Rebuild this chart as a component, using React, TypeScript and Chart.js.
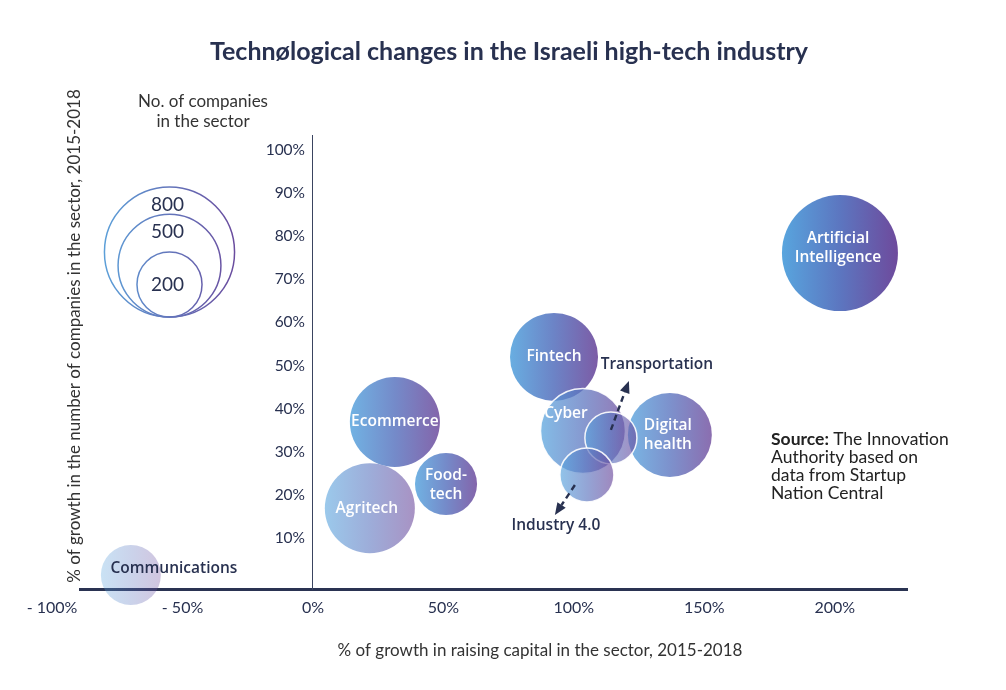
import { useEffect, useRef } from "react";
import { Chart, registerables } from "chart.js";

Chart.register(...registerables);

// ---- data ----
const sectors = [
  "Artificial Intelligence",
  "Fintech",
  "Ecommerce",
  "Agritech",
  "Food-tech",
  "Communications",
  "Cyber",
  "Digital health",
  "Transportation",
  "Industry 4.0",
];
// % growth in raising capital, 2015-2018 (x)
const capitalGrowth = [202, 92.4, 31.4, 21.8, 51, -69.8, 103.5, 136.8, 114.2, 105];
// % growth in number of companies, 2015-2018 (y)
const companyGrowth = [76.1, 52, 36.9, 16.9, 22.5, 1.4, 34.8, 33.9, 33.2, 24.6];
// number of companies in the sector (bubble size)
const companies = [636, 366, 383, 383, 182, 170, 341, 333, 128, 138];
const legendCompanies = [800, 500, 200];
const xTickValues = [-100, -50, 0, 50, 100, 150, 200];
const yTickValues = [10, 20, 30, 40, 50, 60, 70, 80, 90, 100];

// ---- styles ----
const NAVY = "#283150";
const bubbleAlpha = [1, 0.9, 0.85, 0.6, 0.85, 0.32, 0.74, 0.8, 0.64, 0.66];
const whiteBorder = [false, false, false, false, false, false, true, false, true, true];
const labelLines = [
  ["Artificial", "Intelligence"],
  ["Fintech"],
  ["Ecommerce"],
  ["Agritech"],
  ["Food-", "tech"],
  ["Communications"],
  ["Cyber"],
  ["Digital", "health"],
  ["Transportation"],
  ["Industry 4.0"],
];
const labelOffset = [
  [-2, -5],
  [0, 0],
  [0, 0],
  [-3, 0],
  [0, 1],
  [43, -6],
  [-17, -17],
  [-2, 0],
  [46, -73],
  [-31, 51],
];
const labelDark = [false, false, false, false, false, true, false, false, true, true];

const K = 2.3;
const rOf = (n: number) => K * Math.sqrt(n);

function drawArrow(ctx: CanvasRenderingContext2D, x1: number, y1: number, x2: number, y2: number) {
  const ang = Math.atan2(y2 - y1, x2 - x1);
  const head = 12;
  const bx = x2 - Math.cos(ang) * head;
  const by = y2 - Math.sin(ang) * head;
  ctx.save();
  ctx.strokeStyle = NAVY;
  ctx.fillStyle = NAVY;
  ctx.lineWidth = 2.4;
  ctx.setLineDash([6, 4]);
  ctx.beginPath();
  ctx.moveTo(x1, y1);
  ctx.lineTo(bx, by);
  ctx.stroke();
  ctx.setLineDash([]);
  ctx.beginPath();
  ctx.moveTo(x2, y2);
  ctx.lineTo(bx + Math.cos(ang + Math.PI / 2) * 5, by + Math.sin(ang + Math.PI / 2) * 5);
  ctx.lineTo(bx + Math.cos(ang - Math.PI / 2) * 5, by + Math.sin(ang - Math.PI / 2) * 5);
  ctx.closePath();
  ctx.fill();
  ctx.restore();
}

const decorPlugin = {
  id: "decor",
  afterDatasetsDraw(chart: any) {
    const ctx: CanvasRenderingContext2D = chart.ctx;
    const meta = chart.getDatasetMeta(0);
    // arrows
    const tr = meta.data[8];
    const ind = meta.data[9];
    drawArrow(ctx, tr.x, tr.y - 8, tr.x + 18, tr.y - 57);
    drawArrow(ctx, ind.x - 12, ind.y + 10, ind.x - 32, ind.y + 40);
    // bubble labels
    ctx.save();
    ctx.textAlign = "center";
    ctx.textBaseline = "middle";
    ctx.font = "600 15.5px 'Open Sans'";
    meta.data.forEach((el: any, i: number) => {
      const lines = labelLines[i];
      const lh = 19;
      const cx = el.x + labelOffset[i][0];
      const cy = el.y + labelOffset[i][1] - ((lines.length - 1) * lh) / 2;
      ctx.fillStyle = labelDark[i] ? NAVY : "#ffffff";
      lines.forEach((t, j) => ctx.fillText(t, cx, cy + j * lh));
    });
    ctx.restore();
  },
  afterDraw(chart: any) {
    const ctx: CanvasRenderingContext2D = chart.ctx;
    ctx.save();
    // main title
    ctx.textAlign = "center";
    ctx.textBaseline = "middle";
    ctx.fillStyle = NAVY;
    ctx.font = "bold 25px Lato";
    ctx.fillText("Technølogical changes in the Israeli high-tech industry", 509, 52);
    // y-axis title
    ctx.save();
    ctx.translate(75, 336);
    ctx.rotate(-Math.PI / 2);
    ctx.fillStyle = "#333333";
    ctx.font = "17px Lato";
    ctx.fillText("% of growth in the number of companies in the sector, 2015-2018", 0, 0);
    ctx.restore();
    // x-axis title
    ctx.fillStyle = "#333333";
    ctx.font = "17px Lato";
    ctx.fillText("% of growth in raising capital in the sector, 2015-2018", 540, 651);
    // size legend
    ctx.font = "17px Lato";
    ctx.fillText("No. of companies", 203, 102);
    ctx.fillText("in the sector", 203, 122);
    const cx = 169.5;
    const bottom = 317;
    const rMax = rOf(legendCompanies[0]);
    const g = ctx.createLinearGradient(cx - rMax, 0, cx + rMax, 0);
    g.addColorStop(0, "#5c9fd8");
    g.addColorStop(1, "#6a4c9e");
    ctx.strokeStyle = g;
    ctx.lineWidth = 1.5;
    legendCompanies.forEach((v, i) => {
      const r = rOf(v);
      ctx.beginPath();
      ctx.arc(cx, bottom - r, r, 0, Math.PI * 2);
      ctx.stroke();
      ctx.fillStyle = NAVY;
      ctx.font = "19px Lato";
      const ty = i === legendCompanies.length - 1 ? bottom - r : bottom - 2 * r + 18;
      ctx.fillText(String(v), cx - 2, ty);
    });
    // source note
    ctx.textAlign = "left";
    ctx.fillStyle = "#222222";
    ctx.font = "bold 17.5px Lato";
    ctx.fillText("Source:", 771, 439);
    const w = ctx.measureText("Source: ").width;
    ctx.font = "17.5px Lato";
    ctx.fillText("The Innovation", 771 + w, 439);
    ctx.fillText("Authority based on", 771, 457);
    ctx.fillText("data from Startup", 771, 475);
    ctx.fillText("Nation Central", 771, 493);
    ctx.restore();
  },
};

export default function App() {
  const ref = useRef<HTMLCanvasElement>(null);
  useEffect(() => {
    const canvas = ref.current!;
    const points = sectors.map((s, i) => ({
      x: capitalGrowth[i],
      y: companyGrowth[i],
      r: rOf(companies[i]),
    }));
    const fill = (c: any) => {
      const i = c.dataIndex;
      const chart = c.chart;
      if (i === undefined || !chart.scales || !chart.scales.x) return "rgba(120,120,200,0.5)";
      const px = chart.scales.x.getPixelForValue(capitalGrowth[i]);
      const r = rOf(companies[i]);
      const a = bubbleAlpha[i];
      if (!Number.isFinite(px) || !Number.isFinite(r)) return `rgba(92,118,192,${a})`;
      const grad = chart.ctx.createLinearGradient(px - r, 0, px + r, 0);
      grad.addColorStop(0, `rgba(88,165,222,${a})`);
      grad.addColorStop(0.5, `rgba(92,118,192,${a})`);
      grad.addColorStop(1, `rgba(110,74,156,${a})`);
      return grad;
    };
    const chart = new Chart(canvas, {
      type: "bubble",
      data: {
        datasets: [
          {
            label: "Sectors",
            data: points,
            backgroundColor: fill,
            borderColor: (c: any) =>
              whiteBorder[c.dataIndex] ? "rgba(255,255,255,0.9)" : "rgba(255,255,255,0)",
            borderWidth: (c: any) => (whiteBorder[c.dataIndex] ? 1.5 : 0),
            clip: false as any,
          },
        ],
      },
      options: {
        animation: false,
        responsive: true,
        maintainAspectRatio: false,
        events: [],
        layout: { padding: { left: 80, right: 99, top: 135, bottom: 0 } },
        plugins: {
          legend: { display: false },
          tooltip: { enabled: false },
          title: { display: false },
        },
        scales: {
          x: {
            type: "linear",
            position: "bottom",
            min: -89.3,
            max: 227.7,
            grid: { display: false },
            border: { display: true, color: "#2a3352", width: 3 },
            afterBuildTicks: (scale: any) => {
              scale.ticks = xTickValues.map((v) => ({ value: v }));
            },
            afterFit: (scale: any) => {
              scale.paddingLeft = 0;
              scale.paddingRight = 0;
              scale.height = 101;
            },
            ticks: {
              autoSkip: false,
              maxRotation: 0,
              padding: 1,
              color: NAVY,
              font: { family: "Lato", size: 16 },
              callback: (v: any) => (v < 0 ? `- ${Math.abs(v)}%` : `${v}%`),
            },
          },
          y: {
            type: "linear",
            position: { x: 0 } as any,
            min: -1.86,
            max: 103.5,
            grid: { display: false },
            border: { display: true, color: "#3a4460", width: 1 },
            afterBuildTicks: (scale: any) => {
              scale.ticks = yTickValues.map((v) => ({ value: v }));
            },
            afterFit: (scale: any) => {
              scale.paddingTop = 0;
              scale.paddingBottom = 0;
            },
            ticks: {
              autoSkip: false,
              color: NAVY,
              font: { family: "Lato", size: 15.5 },
              callback: (v: any) => `${v}%  `,
            },
          },
        },
      },
      plugins: [decorPlugin],
    });
    return () => chart.destroy();
  }, []);
  return (
    <div
      style={{
        position: "fixed",
        left: 0,
        top: 0,
        width: 1006,
        height: 690,
        background: "#ffffff",
      }}
    >
      <canvas ref={ref} />
    </div>
  );
}
